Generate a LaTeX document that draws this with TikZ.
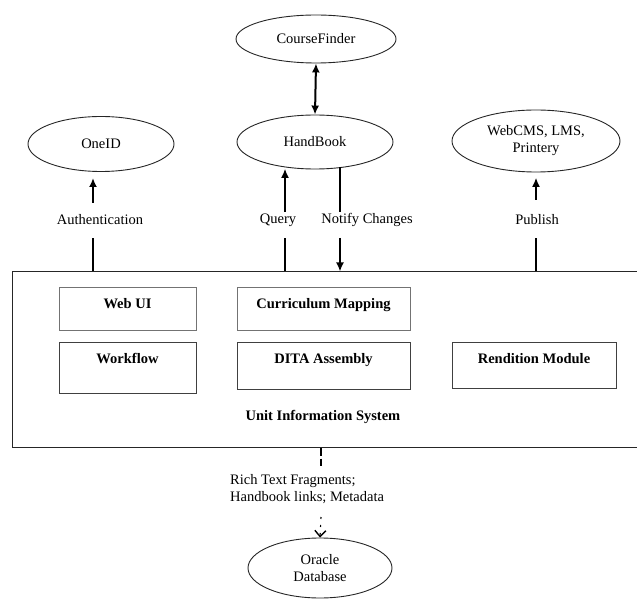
\documentclass[tikz,border=0pt]{standalone}
\usepackage{fontspec}
\setmainfont{Liberation Serif}
\usetikzlibrary{arrows.meta,shapes.geometric}
\begin{document}
\begin{tikzpicture}[x=1pt,y=-1pt,
  font=\fontsize{14.5}{17}\selectfont,
  oval/.style={draw=black!85, ellipse, inner sep=0pt, line width=0.9pt, align=center},
  partbox/.style={draw=black!75, line width=1pt, inner sep=0pt},
  parttext/.style={anchor=north, font=\fontsize{14.5}{17}\selectfont\bfseries, yshift=-7pt},
  heavy/.style={line width=2pt},
  light/.style={line width=1.2pt},
  tip/.style={-{Latex[length=9pt,width=8pt]}},
  dtip/.style={{Latex[length=9pt,width=8pt]}-{Latex[length=9pt,width=8pt]}},
  lbl/.style={inner sep=0pt}]

\clip (0,0) rectangle (637,601);
\fill[white] (0,0) rectangle (637,601);

% external systems
\node[oval, minimum width=160pt, minimum height=48pt] (cf) at (316,39) {CourseFinder};
\node[oval, minimum width=156pt, minimum height=54pt] (hb) at (315,142) {HandBook};
\node[oval, minimum width=146pt, minimum height=55pt] (oneid) at (101,144) {OneID};
\node[oval, minimum width=168pt, minimum height=62pt] (pub) at (536,141) {WebCMS, LMS,\\Printery};
\node[oval, minimum width=144pt, minimum height=60pt] (ora) at (320,568) {Oracle\\Database};

% the Unit Information System and its modules
\node[draw=black!85, line width=1pt, inner sep=0pt, minimum width=633pt, minimum height=175pt] (sys) at (328.5,359.5) {};
\node[font=\fontsize{14.5}{17}\selectfont\bfseries] (systitle) at (323,417) {Unit Information System};

\node[partbox, draw=black!55, minimum width=137pt, minimum height=43pt] (webui) at (127.5,309.5) {};
\node[parttext] at (webui.north) {Web UI};
\node[partbox, draw=black!55, minimum width=173pt, minimum height=43pt] (curr) at (323.5,309.5) {};
\node[parttext] at (curr.north) {Curriculum Mapping};
\node[partbox, minimum width=137pt, minimum height=50pt] (wf) at (127.5,368) {};
\node[parttext] at (wf.north) {Workflow};
\node[partbox, minimum width=173pt, minimum height=46pt] (dita) at (323.5,366) {};
\node[parttext] at (dita.north) {DITA Assembly};
\node[partbox, minimum width=164pt, minimum height=45pt] (rend) at (534,365.5) {};
\node[parttext] at (rend.north) {Rendition Module};

% connector labels
\node[lbl] (auth) at (100,220) {Authentication};
\node[lbl] (query) at (278,220) {Query};
\node[lbl] (notify) at (367,220) {Notify Changes};
\node[lbl] (publish) at (537,220) {Publish};
\node[lbl, anchor=west, align=left] (rich) at (230,489) {Rich Text Fragments;\\Handbook links; Metadata};

% connector break points
\coordinate (authlo) at (93,238);
\coordinate (authhi) at (93,203);
\coordinate (authend) at (93,178);
\coordinate (querylo) at (285,238);
\coordinate (queryhi) at (285,212);
\coordinate (queryend) at (285,169);
\coordinate (notifystart) at (340,167);
\coordinate (notifyhi) at (340,212);
\coordinate (notifylo) at (340,238);
\coordinate (publo) at (536,238);
\coordinate (pubhi) at (536,200);
\coordinate (pubend) at (536,178);
\coordinate (richhi) at (321,466);
\coordinate (richlo) at (321,517);

% connectors
\draw[heavy, dtip] (cf.south) -- (hb.north);

\draw[heavy] (sys.north -| authlo) -- (authlo);
\draw[heavy, tip] (authhi) -- (authend);

\draw[light] (sys.north -| querylo) -- (querylo);
\draw[light, tip] (queryhi) -- (queryend);

\draw[heavy] (notifystart) -- (notifyhi);
\draw[heavy, tip] (notifylo) -- (sys.north -| notifylo);

\draw[light] (sys.north -| publo) -- (publo);
\draw[light, tip] (pubhi) -- (pubend);

\draw[line width=1.1pt, dash pattern=on 8pt off 3pt] (sys.south -| richhi) -- (richhi);
\draw[line width=1.1pt, dash pattern=on 2pt off 6pt, -{Straight Barb[length=6pt,width=11pt,line width=1.4pt]}] (richlo) -- (ora.north);
\end{tikzpicture}
\end{document}
